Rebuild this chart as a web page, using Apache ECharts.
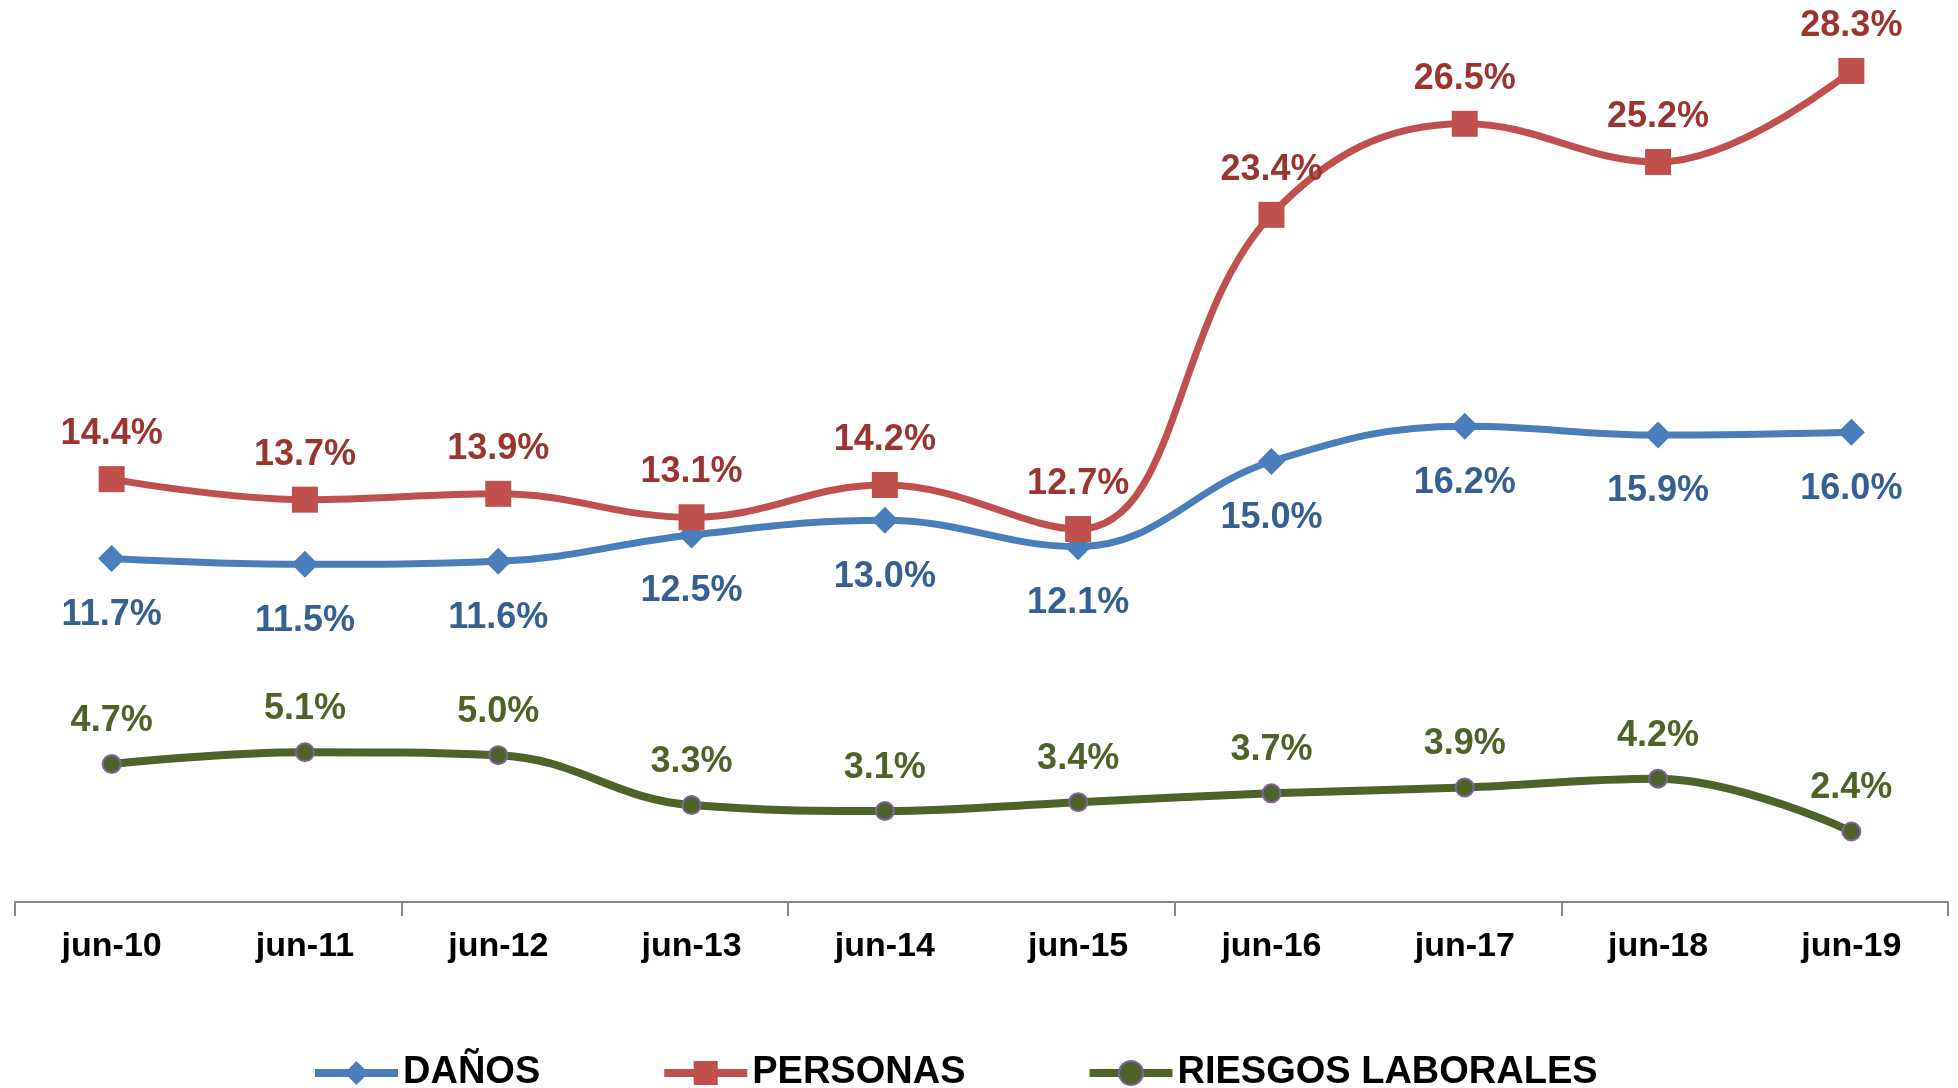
<!DOCTYPE html>
<html>
<head>
<meta charset="utf-8">
<script src="https://cdn.jsdelivr.net/npm/echarts@6/dist/echarts.min.js"></script>
<style>
  html, body { margin: 0; padding: 0; background: #fff; }
  #chart { width: 1958px; height: 1088px; }
</style>
</head>
<body>
<div id="chart"></div>
<script>
  var categories = ['jun-10', 'jun-11', 'jun-12', 'jun-13', 'jun-14', 'jun-15', 'jun-16', 'jun-17', 'jun-18', 'jun-19'];
  var danos = [11.7, 11.5, 11.6, 12.5, 13.0, 12.1, 15.0, 16.2, 15.9, 16.0];
  var personas = [14.4, 13.7, 13.9, 13.1, 14.2, 12.7, 23.4, 26.5, 25.2, 28.3];
  var riesgos = [4.7, 5.1, 5.0, 3.3, 3.1, 3.4, 3.7, 3.9, 4.2, 2.4];

  var font = '"Liberation Sans", Arial, sans-serif';
  function pct(p) { return p.value.toFixed(1) + '%'; }

  var myChart = echarts.init(document.getElementById('chart'));
  var option = {
    backgroundColor: '#fff',
    animation: false,
    grid: { left: 15, right: 10, top: 21, bottom: 186 },
    legend: {
      data: ['DAÑOS', 'PERSONAS', 'RIESGOS LABORALES'],
      left: 306,
      top: 1049,
      itemWidth: 83,
      itemHeight: 30,
      itemGap: 120,
      lineStyle: { width: 8 },
      textStyle: { fontFamily: font, fontWeight: 'bold', fontSize: 38, color: '#000' }
    },
    xAxis: {
      type: 'category',
      data: categories,
      boundaryGap: true,
      axisLine: { lineStyle: { color: '#888', width: 2 } },
      axisTick: {
        show: true,
        interval: function (index) { return index % 2 === 0; },
        length: 14,
        lineStyle: { color: '#888', width: 2 }
      },
      axisLabel: { interval: 0, margin: 28, fontFamily: font, fontWeight: 'bold', fontSize: 34, color: '#000' }
    },
    yAxis: {
      type: 'value',
      min: 0,
      max: 30,
      show: false,
      splitLine: { show: false }
    },
    series: [
      {
        name: 'DAÑOS',
        type: 'line',
        smooth: 0.4,
        data: danos,
        color: '#4a7ebb',
        symbol: 'diamond',
        symbolSize: 27,
        lineStyle: { width: 7, color: '#4a7ebb' },
        itemStyle: { color: '#4a7ebb' },
        label: {
          show: true, position: 'bottom', distance: 25, formatter: pct,
          fontFamily: font, fontWeight: 'bold', fontSize: 36, color: '#376092'
        },
        z: 2
      },
      {
        name: 'PERSONAS',
        type: 'line',
        smooth: 0.4,
        data: personas,
        color: '#c0504d',
        symbol: 'rect',
        symbolSize: 26,
        lineStyle: { width: 7, color: '#c0504d' },
        itemStyle: { color: '#c0504d' },
        label: {
          show: true, position: 'top', distance: 14, formatter: pct,
          fontFamily: font, fontWeight: 'bold', fontSize: 36, color: '#9b3532'
        },
        z: 3
      },
      {
        name: 'RIESGOS LABORALES',
        type: 'line',
        smooth: 0.4,
        data: riesgos,
        color: '#4f6228',
        symbol: 'circle',
        symbolSize: 18,
        lineStyle: { width: 8, color: '#4f6228' },
        itemStyle: { color: '#4f6228', borderColor: '#8064a2', borderWidth: 2 },
        label: {
          show: true, position: 'top', distance: 15, formatter: pct,
          fontFamily: font, fontWeight: 'bold', fontSize: 36, color: '#4f6228'
        },
        z: 2
      }
    ]
  };
  myChart.setOption(option);
  window.addEventListener('resize', function () { myChart.resize(); });
</script>
</body>
</html>
